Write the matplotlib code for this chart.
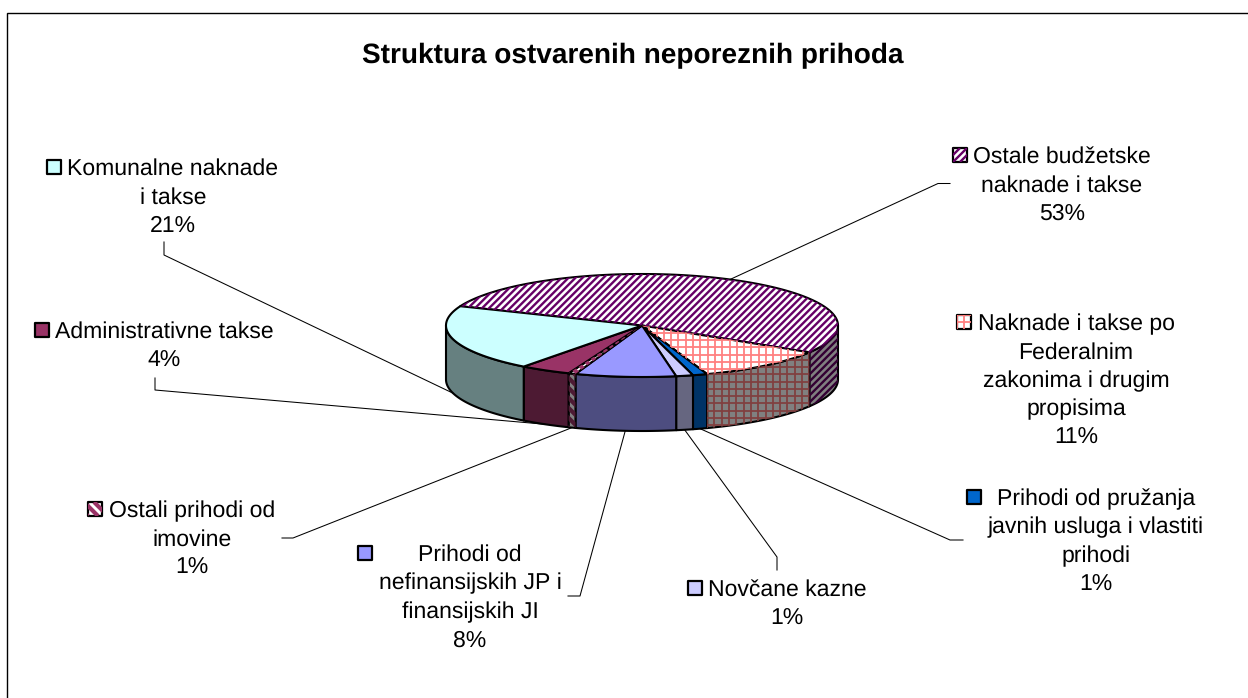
import numpy as np
import matplotlib
matplotlib.use('Agg')
import matplotlib.pyplot as plt
from matplotlib.patches import Polygon
from matplotlib.collections import LineCollection

plt.rcParams['font.family'] = ['Liberation Sans', 'DejaVu Sans']
plt.rcParams['text.hinting'] = 'no_hinting'
plt.rcParams['text.hinting_factor'] = 1

title = 'Struktura ostvarenih neporeznih prihoda'

# slices, clockwise from the back left of the pie
names = [
    ['Ostale budžetske', 'naknade i takse'],
    ['Naknade i takse po', 'Federalnim', 'zakonima i drugim', 'propisima'],
    ['Prihodi od pružanja', 'javnih usluga i vlastiti', 'prihodi'],
    ['Novčane kazne'],
    ['Prihodi od', 'nefinansijskih JP i', 'finansijskih JI'],
    ['Ostali prihodi od', 'imovine'],
    ['Administrativne takse'],
    ['Komunalne naknade', 'i takse'],
]
values = [52.6, 10.9, 1.2, 1.4, 8.3, 0.6, 4.2, 20.8]

top_colors = ['#ffffff', '#ffffff', '#0066cc', '#ccccff', '#9999ff', '#ffffff', '#993366', '#ccffff']
wall_colors = ['#808080', '#808080', '#003366', '#666680', '#4d4d80', '#808080', '#4d1a33', '#668080']
top_hatch = [('fwd', '#660066'), ('grid', '#ff8080'), None, None, None, ('back', '#993366'), None, None]
wall_hatch = [('fwd', '#330033'), ('grid', '#804040'), None, None, None, ('back', '#4d1a33'), None, None]

# pixel layout
W, H = 1248, 698
CX, CY, RX, RY, DEPTH = 642, 325.5, 196, 51.5, 54
START = 158

# label layout: centre x, first baseline, key x, key y
label_pos = [
    (1062, 163, 953, 148),
    (1076, 330, 957, 315),
    (1096, 505, 967, 490),
    (787, 596, 688, 581),
    (470, 561, 358, 546),
    (192, 517, 88, 502),
    (164, 338, 35, 323),
    (173, 175, 47, 160),
]
# leader elbows, None where the label has no leader
elbows = [
    [(938, 183.5), (950, 183.5)],
    None,
    [(950, 540), (963, 540)],
    [(777, 557), (777, 570)],
    [(580, 596), (568, 596)],
    [(293, 538), (282, 538)],
    [(155, 390), (155, 378)],
    [(164, 255), (164, 242)],
]

PITCH = 28.5
FONT = 16.5
EDGE = 1.5


def rim(t, dy=0):
    t = np.radians(t)
    return np.column_stack([CX + RX * np.cos(t), CY - RY * np.sin(t) + dy])


def add_hatch(ax, patch, hatch):
    # Excel pattern fills: stripes drawn as lines and clipped to the shape
    kind, color = hatch
    x0, y0 = patch.get_xy().min(axis=0)
    x1, y1 = patch.get_xy().max(axis=0)
    h = y1 - y0
    segs = []
    if kind == 'grid':
        step, lw = 7.3, 1.3
        for x in np.arange(x0, x1 + step, step):
            segs.append([(x, y0), (x, y1)])
        for y in np.arange(y0, y1 + step, step):
            segs.append([(x0, y), (x1, y)])
    else:
        step, lw = (7, 1.7) if kind == 'fwd' else (10, 3)
        for x in np.arange(x0 - h, x1 + step, step):
            if kind == 'fwd':
                segs.append([(x, y1), (x + h, y0)])
            else:
                segs.append([(x, y0), (x + h, y1)])
    lines = LineCollection(segs, colors=color, linewidths=lw, capstyle='butt')
    ax.add_collection(lines, autolim=False)
    lines.set_clip_path(patch)


def add_shape(ax, pts, face, hatch, lw=EDGE):
    patch = Polygon(pts, closed=True, facecolor=face, edgecolor='none')
    ax.add_patch(patch)
    if hatch:
        add_hatch(ax, patch, hatch)
    ax.add_patch(Polygon(pts, closed=True, facecolor='none', edgecolor='black',
                         linewidth=lw, joinstyle='round'))


fig = plt.figure(figsize=(W / 100, H / 100), dpi=100)
ax = fig.add_axes([0, 0, 1, 1])
ax.set_xlim(0, W)
ax.set_ylim(H, 0)
ax.axis('off')

# chart frame, cropped on the right and at the bottom
ax.plot([7, 7, W], [H, 12.5, 12.5], color='black', lw=1.0, solid_joinstyle='miter')

ax.text(633, 63, title, ha='center', va='baseline', fontsize=20.0, fontweight='bold')

shares = np.array(values) / sum(values)
ends = START - 360 * np.cumsum(shares)
starts = np.concatenate([[START], ends[:-1]])
mids = (starts + ends) / 2

# leaders go under the pie
for mid, elbow in zip(mids, elbows):
    if elbow is None:
        continue
    front = np.sin(np.radians(mid)) < 0
    p = rim(mid, DEPTH if front else 0)[0]
    xs = [p[0]] + [e[0] for e in elbow]
    ys = [p[1]] + [e[1] for e in elbow]
    ax.plot(xs, ys, color='black', lw=0.75)

# walls
for i in range(len(values)):
    a, b = min(starts[i], 0), max(ends[i], -180)
    if a <= b:
        continue
    arc = np.linspace(a, b, 60)
    pts = np.vstack([rim(arc), rim(arc[::-1], DEPTH)])
    add_shape(ax, pts, wall_colors[i], wall_hatch[i])

# top faces
for i in range(len(values)):
    arc = np.linspace(starts[i], ends[i], 120)
    pts = np.vstack([[(CX, CY)], rim(arc)])
    add_shape(ax, pts, top_colors[i], top_hatch[i])

# labels with their legend keys
for i, lines in enumerate(names):
    cx, base, kx, ky = label_pos[i]
    pct = f'{values[i] / sum(values) * 100:.0f}%'
    for j, line in enumerate(lines + [pct]):
        ax.text(cx, base + j * PITCH, line, ha='center', va='baseline', fontsize=FONT)
    corners = [(kx, ky), (kx + 14, ky), (kx + 14, ky + 14), (kx, ky + 14)]
    add_shape(ax, corners, top_colors[i], top_hatch[i], lw=1.6)

fig.savefig('out.png', dpi=100)
